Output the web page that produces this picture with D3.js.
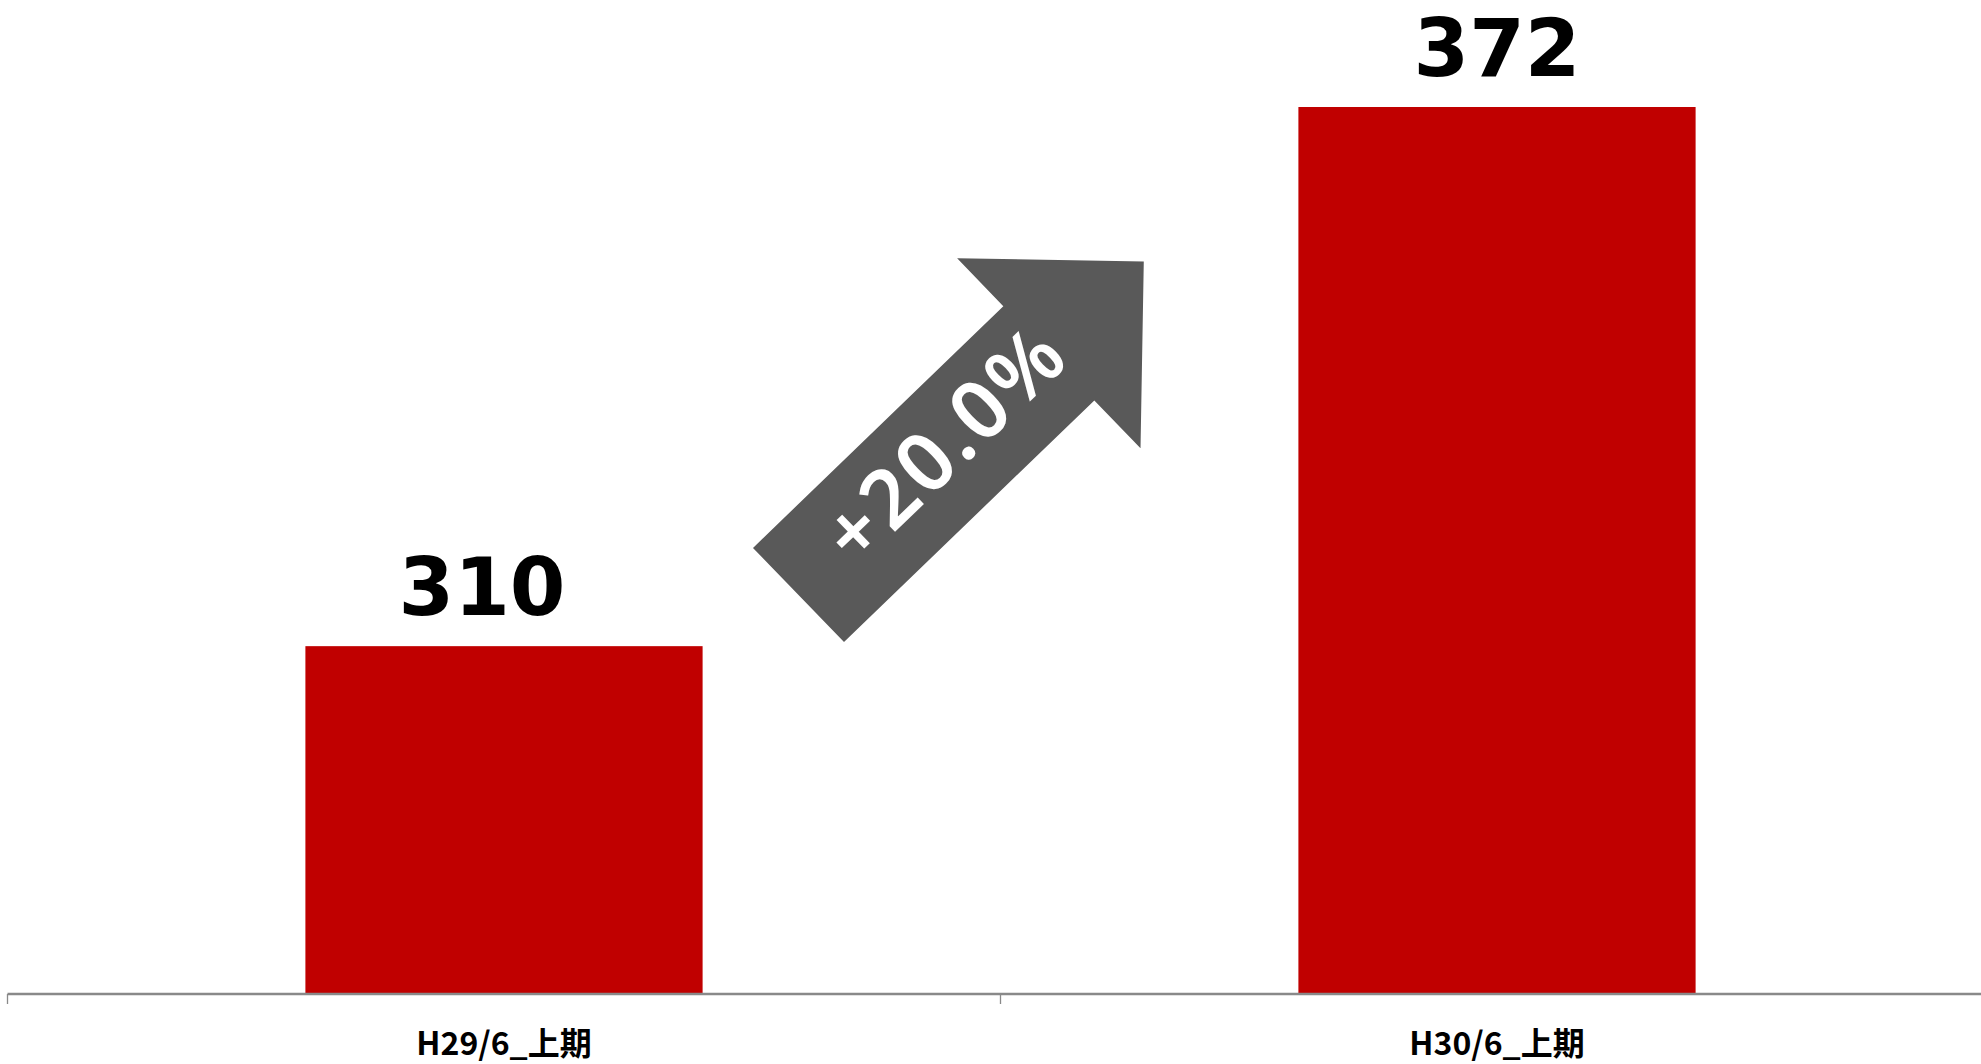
<!DOCTYPE html>
<html>
<head>
<meta charset="utf-8">
<script src="https://cdn.jsdelivr.net/npm/d3@7"></script>
<style>
  html, body { margin: 0; padding: 0; background: #fff; overflow: hidden; }
  svg { display: block; }
</style>
</head>
<body>
<svg id="chart" width="1981" height="1064"></svg>
<script>
// Half-year totals
const categories = ["H29/6_上期", "H30/6_上期"];
const values = [310, 372];
const growthLabel = "+20.0%";

const W = 1981, H = 1064;
const svg = d3.select("#chart");

// Plot frame: axis baseline and value range (axis does not start at zero)
const plotLeft = 7.5, plotRight = 1993.5;
const baseY = 994;
const yDomain = [270, 380];

const x = d3.scaleBand()
  .domain(categories)
  .range([plotLeft, plotRight])
  .paddingInner(0.6)
  .paddingOuter(0.3);

const y = d3.scaleLinear()
  .domain(yDomain)
  .range([baseY, baseY - (yDomain[1] - yDomain[0]) * 8.696]);

// Bars
svg.append("g").selectAll("rect")
  .data(categories.map((c, i) => ({ c, v: values[i] })))
  .join("rect")
  .attr("x", d => x(d.c))
  .attr("y", d => y(d.v))
  .attr("width", x.bandwidth())
  .attr("height", d => baseY - y(d.v))
  .attr("fill", "#C00000");

// Category axis with ticks on band boundaries
const axisG = svg.append("g").attr("transform", `translate(0,${baseY})`);
axisG.append("line")
  .attr("x1", plotLeft).attr("x2", W)
  .attr("y1", 0).attr("y2", 0)
  .attr("stroke", "#898989").attr("stroke-width", 2.5);
const step = x.step();
const boundaries = d3.range(categories.length + 1).map(i => plotLeft + i * step);
axisG.selectAll("line.tick")
  .data(boundaries.filter(b => b < W))
  .join("line")
  .attr("class", "tick")
  .attr("x1", d => d).attr("x2", d => d)
  .attr("y1", 0).attr("y2", 10)
  .attr("stroke", "#898989").attr("stroke-width", 1.3);

axisG.selectAll("text")
  .data(categories)
  .join("text")
  .attr("x", d => x(d) + x.bandwidth() / 2)
  .attr("y", 61)
  .attr("text-anchor", "middle")
  .attr("font-family", "'Noto Sans CJK JP', sans-serif")
  .attr("font-weight", 700)
  .attr("font-size", 32)
  .attr("fill", "#000")
  .text(d => d);

// Value labels above bars
const labelNudge = [-22, 0];
svg.append("g").selectAll("text")
  .data(categories.map((c, i) => ({ c, v: values[i], i })))
  .join("text")
  .attr("x", d => x(d.c) + x.bandwidth() / 2 + labelNudge[d.i])
  .attr("y", d => y(d.v) - 31)
  .attr("text-anchor", "middle")
  .attr("font-family", "'DejaVu Sans', Verdana, sans-serif")
  .attr("font-weight", 700)
  .attr("font-size", 80)
  .attr("fill", "#000")
  .text(d => d3.format(",")(d.v));

// Growth arrow between the two bars
const arrowLen = 480, shaftHalf = 65.5, headStart = 348, headHalf = 132;
const arrowPts = [
  [0, -shaftHalf], [headStart, -shaftHalf], [headStart, -headHalf],
  [arrowLen, 0], [headStart, headHalf], [headStart, shaftHalf], [0, shaftHalf]
];
const arrow = svg.append("g")
  .attr("transform", "translate(798.5,595) rotate(-44)");
arrow.append("path")
  .attr("d", d3.line()(arrowPts) + "Z")
  .attr("fill", "#595959");
const growthSize = 82;
arrow.append("text")
  .attr("x", 210)
  .attr("y", -8 + 0.36 * growthSize)
  .attr("text-anchor", "middle")
  .attr("font-family", "'Noto Sans', 'Open Sans', sans-serif")
  .attr("font-weight", 600)
  .attr("font-size", growthSize)
  .attr("letter-spacing", 3)
  .attr("fill", "#fff")
  .text(growthLabel);
</script>
</body>
</html>
